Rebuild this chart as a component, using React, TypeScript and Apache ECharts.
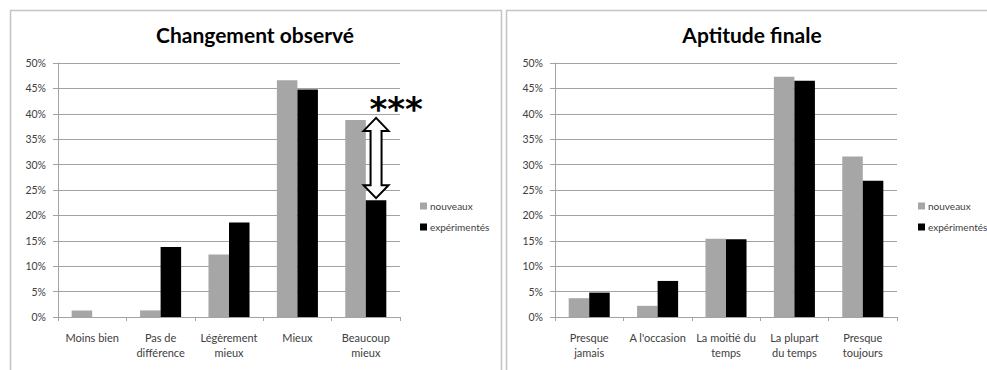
import React, { useEffect, useRef } from "react";
import * as echarts from "echarts";

const cats1 = ["Moins bien", "Pas de\ndifférence", "Légèrement\nmieux", "Mieux", "Beaucoup\nmieux"];
const nouveaux1 = [1.3, 1.3, 12.3, 46.6, 38.8];
const experimentes1 = [0, 13.8, 18.6, 44.8, 23.0];

const cats2 = ["Presque\njamais", "A l'occasion", "La moitié du\ntemps", "La plupart\ndu temps", "Presque\ntoujours"];
const nouveaux2 = [3.7, 2.2, 15.4, 47.3, 31.6];
const experimentes2 = [4.8, 7.1, 15.3, 46.5, 26.8];

const seriesNames = ["nouveaux", "expérimentés"];
const titles = ["Changement observé", "Aptitude finale"];
const yTicks = { min: 0, max: 50, interval: 5 };
const significance = "***";

const FONT = "Lato, 'Open Sans', sans-serif";
const GRAY = "#a6a6a6";
const BLACK = "#000000";
const GRID_LINE = "#a3a3a3";

function xAxis(cats: string[], gridIndex: number) {
  return {
    type: "category",
    gridIndex,
    data: cats,
    axisLine: { show: true, lineStyle: { color: GRID_LINE, width: 1 } },
    axisTick: { show: true, alignWithLabel: false, length: 4, lineStyle: { color: GRID_LINE } },
    axisLabel: {
      interval: 0,
      fontFamily: FONT,
      fontSize: 11,
      lineHeight: 15,
      color: "#404040",
      margin: 13,
    },
  };
}

function yAxis(gridIndex: number) {
  return {
    type: "value",
    gridIndex,
    min: yTicks.min,
    max: yTicks.max,
    interval: yTicks.interval,
    axisLine: { show: true, lineStyle: { color: GRID_LINE, width: 1 } },
    axisTick: { show: true, length: 5, lineStyle: { color: GRID_LINE } },
    axisLabel: {
      formatter: "{value}%",
      fontFamily: FONT,
      fontSize: 10.5,
      color: "#404040",
      margin: 12,
    },
    splitLine: { show: true, lineStyle: { color: GRID_LINE, width: 1 } },
  };
}

function bar(name: string, data: number[], color: string, idx: number) {
  return {
    type: "bar",
    name,
    data,
    xAxisIndex: idx,
    yAxisIndex: idx,
    barGap: "0%",
    barCategoryGap: "40%",
    itemStyle: { color },
  };
}

export default function App() {
  const ref = useRef<HTMLDivElement>(null);

  useEffect(() => {
    if (!ref.current) return;
    const chart = echarts.init(ref.current, null, { renderer: "svg" });

    const legendCommon = {
      orient: "vertical",
      icon: "rect",
      itemWidth: 7,
      itemHeight: 7,
      itemGap: 11,
      data: seriesNames,
      textStyle: { fontFamily: FONT, fontSize: 10, color: "#404040", padding: [0, 0, 0, -2] },
    };

    chart.setOption({
      animation: false,
      backgroundColor: "#ffffff",
      title: [
        {
          text: titles[0],
          left: 250,
          top: 19,
          textAlign: "center",
          textStyle: { fontFamily: FONT, fontSize: 21, fontWeight: "bold", color: "#000" },
        },
        {
          text: titles[1],
          left: 747,
          top: 19,
          textAlign: "center",
          textStyle: { fontFamily: FONT, fontSize: 21, fontWeight: "bold", color: "#000" },
        },
      ],
      legend: [
        { ...legendCommon, left: 415, top: 196 },
        { ...legendCommon, left: 913, top: 196 },
      ],
      grid: [
        { left: 58, right: 987 - 400, top: 63, bottom: 370 - 317 },
        { left: 555, right: 987 - 897, top: 63, bottom: 370 - 317 },
      ],
      xAxis: [xAxis(cats1, 0), xAxis(cats2, 1)],
      yAxis: [yAxis(0), yAxis(1)],
      series: [
        bar(seriesNames[0], nouveaux1, GRAY, 0),
        bar(seriesNames[1], experimentes1, BLACK, 0),
        bar(seriesNames[0], nouveaux2, GRAY, 1),
        bar(seriesNames[1], experimentes2, BLACK, 1),
      ],
    });

    // Annotation arrow between the two "Beaucoup mieux" bars
    const last = cats1.length - 1;
    const pTop = chart.convertToPixel({ seriesIndex: 1 }, [last, nouveaux1[last]]) as number[];
    const pBot = chart.convertToPixel({ seriesIndex: 1 }, [last, experimentes1[last]]) as number[];
    const bandW = (400 - 58) / cats1.length;
    const cx = pTop[0] + bandW * 0.6 * 0.25;
    const yt = pTop[1] - 2;
    const yb = pBot[1] - 2;
    const hh = 13;
    const hw = 12.5;
    const sw = 5.5;

    chart.setOption({
      graphic: [
        {
          type: "rect",
          shape: { x: 10.5, y: 10.5, width: 491, height: 400 },
          style: { fill: "none", stroke: "#c4c4c4", lineWidth: 1.5 },
          silent: true,
          z: -10,
        },
        {
          type: "rect",
          shape: { x: 506.5, y: 10.5, width: 500, height: 400 },
          style: { fill: "none", stroke: "#c4c4c4", lineWidth: 1.5 },
          silent: true,
          z: -10,
        },
        {
          type: "polygon",
          shape: {
            points: [
              [cx, yt],
              [cx + hw, yt + hh],
              [cx + sw, yt + hh],
              [cx + sw, yb - hh],
              [cx + hw, yb - hh],
              [cx, yb],
              [cx - hw, yb - hh],
              [cx - sw, yb - hh],
              [cx - sw, yt + hh],
              [cx - hw, yt + hh],
            ],
          },
          style: { fill: "#ffffff", stroke: "#000000", lineWidth: 2 },
          z: 100,
        },
        {
          type: "text",
          x: cx + 20,
          y: yt - 9,
          style: {
            text: significance,
            fontFamily: "'DejaVu Sans', sans-serif",
            fontSize: 34,
            fontWeight: "bold",
            fill: "#000",
            align: "center",
            verticalAlign: "middle",
          },
          z: 100,
        },
      ],
    });

    return () => chart.dispose();
  }, []);

  return (
    <div
      ref={ref}
      style={{ position: "fixed", left: 0, top: 0, width: 987, height: 370 }}
    />
  );
}
